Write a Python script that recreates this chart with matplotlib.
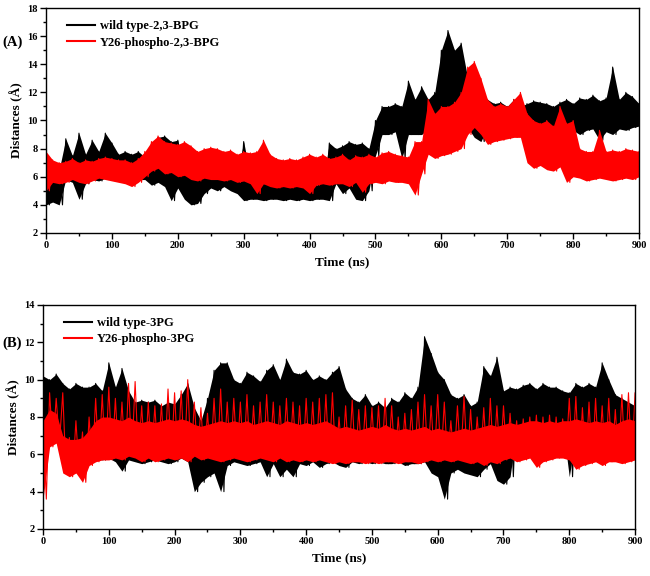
import numpy as np
import matplotlib
matplotlib.use('Agg')
import matplotlib.pyplot as plt
from matplotlib.ticker import MultipleLocator

plt.rcParams['font.family'] = ['Liberation Serif', 'DejaVu Serif']
plt.rcParams['font.weight'] = 'bold'

# envelope values (upper / lower) read every 10 ns, 0..900
a_wt_hi = [5.5, 5.8, 6.5, 8.7, 7.5, 9.1, 7.6, 8.6, 7.8, 9.1, 8.4, 7.6, 7.8, 7.6, 7.8, 7.4, 8.2, 8.8, 8.9, 8.5,
           8.6, 6.5, 6.2, 6.0, 6.3, 6.5, 6.2, 6.2, 6.0, 6.0, 8.5, 6.0, 5.8, 5.5, 5.6, 5.5, 5.4, 5.5, 5.3, 5.4,
           5.5, 5.4, 5.6, 8.4, 8.0, 8.2, 8.5, 8.3, 8.4, 8.0, 10.0, 11.0, 11.0, 11.2, 11.0, 12.8, 11.5, 12.4, 11.5, 12.0,
           15.0, 16.4, 15.0, 15.5, 13.0, 11.0, 10.5, 11.5, 11.2, 11.3, 11.0, 11.5, 11.0, 11.2, 11.4, 11.3, 11.2, 11.0, 11.3, 11.5,
           11.2, 11.6, 11.5, 11.8, 11.4, 11.6, 13.8, 11.5, 12.0, 11.7, 11.2]
a_wt_lo = [4.0, 4.2, 4.0, 5.8, 5.6, 4.4, 5.5, 5.8, 5.7, 5.9, 5.8, 5.7, 5.6, 5.6, 5.8, 5.8, 5.4, 5.6, 5.3, 4.3,
           5.2, 4.4, 4.0, 4.1, 4.8, 5.2, 5.0, 5.3, 5.0, 4.8, 4.3, 4.4, 4.4, 4.3, 4.4, 4.4, 4.3, 4.4, 4.3, 4.4,
           4.3, 4.4, 4.4, 4.3, 5.5, 4.8, 5.2, 4.4, 4.3, 5.0, 7.5, 9.0, 9.0, 9.2, 7.3, 9.0, 9.0, 9.0, 9.4, 8.5,
           10.5, 11.0, 10.8, 10.8, 9.5, 8.8, 8.5, 9.5, 9.6, 9.5, 9.3, 9.4, 9.5, 9.0, 9.2, 9.2, 8.8, 9.0, 9.2, 9.2,
           9.3, 9.0, 9.3, 9.4, 8.6, 9.2, 9.0, 9.4, 9.3, 9.5, 9.6]
a_ph_hi = [7.8, 7.2, 7.0, 7.1, 7.3, 7.0, 7.2, 7.1, 7.3, 7.4, 7.3, 7.2, 7.2, 7.0, 7.3, 7.8, 8.5, 8.9, 8.5, 8.4,
           8.3, 8.5, 8.2, 7.8, 8.0, 8.1, 8.0, 7.8, 7.9, 7.6, 7.8, 7.7, 7.8, 8.6, 7.6, 7.3, 7.2, 7.3, 7.2, 7.4,
           7.6, 7.4, 7.6, 7.3, 7.4, 7.6, 7.2, 7.5, 7.4, 7.6, 7.4, 7.7, 7.8, 7.6, 7.5, 7.4, 8.5, 8.5, 11.5, 10.5,
           11.0, 11.0, 11.3, 12.0, 13.8, 14.2, 13.0, 11.5, 11.0, 11.2, 11.0, 11.5, 12.0, 10.5, 10.0, 9.8, 10.0, 9.6, 11.0, 9.8,
           10.0, 8.0, 7.8, 7.8, 9.3, 7.8, 7.9, 7.8, 8.0, 7.9, 7.8]
a_ph_lo = [5.0, 5.6, 5.5, 5.6, 5.8, 5.6, 5.5, 5.7, 5.9, 5.8, 5.7, 5.6, 5.5, 5.3, 5.6, 6.0, 6.4, 6.6, 6.2, 6.3,
           6.0, 6.1, 5.8, 5.7, 5.9, 5.8, 5.8, 5.7, 5.8, 5.6, 5.7, 5.5, 4.8, 5.5, 5.3, 5.2, 5.3, 5.2, 5.3, 5.2,
           4.8, 5.4, 5.5, 5.4, 5.5, 5.5, 5.3, 5.6, 4.9, 5.5, 5.6, 5.5, 5.7, 5.6, 5.6, 5.5, 4.7, 6.2, 7.6, 7.3,
           7.5, 7.6, 7.8, 8.0, 9.0, 9.5, 9.0, 8.3, 8.5, 8.6, 8.7, 8.8, 8.8, 7.0, 6.6, 6.8, 6.5, 6.4, 6.7, 5.6,
           6.0, 5.9, 5.7, 5.8, 5.9, 5.8, 5.7, 5.8, 5.9, 5.8, 6.0]

b_wt_hi = [10.2, 10.0, 10.3, 9.8, 9.5, 9.8, 9.6, 9.6, 9.8, 9.4, 10.9, 9.6, 10.6, 9.4, 8.8, 8.9, 8.8, 8.9, 8.6, 8.8,
           8.7, 9.2, 9.8, 8.5, 7.8, 9.0, 10.5, 10.9, 10.9, 10.0, 9.8, 10.4, 10.2, 9.9, 10.5, 10.8, 10.0, 11.1, 10.4, 10.3,
           10.5, 10.0, 10.2, 10.0, 10.4, 10.7, 9.5, 9.0, 8.8, 9.2, 8.6, 8.8, 8.5, 9.0, 8.8, 9.3, 9.0, 9.6, 12.3, 11.4,
           10.4, 10.0, 9.2, 9.0, 9.2, 8.6, 8.8, 10.7, 10.2, 11.2, 9.4, 9.6, 9.5, 9.7, 9.8, 9.5, 9.8, 9.6, 9.6, 9.4,
           9.3, 9.8, 9.6, 9.8, 9.6, 10.9, 10.0, 9.2, 9.0, 8.8, 8.6]
b_wt_lo = [7.4, 7.6, 7.5, 6.5, 6.0, 5.0, 5.6, 5.5, 5.8, 5.7, 5.8, 5.6, 5.1, 5.7, 5.6, 5.5, 5.6, 5.7, 5.6, 5.5,
           5.6, 5.8, 5.6, 4.0, 4.5, 4.8, 5.0, 4.0, 5.4, 5.6, 5.5, 5.4, 5.5, 5.6, 4.8, 5.5, 4.8, 5.2, 4.8, 5.5,
           5.4, 5.6, 5.3, 5.5, 5.6, 5.4, 5.3, 5.6, 5.5, 5.6, 5.5, 5.6, 5.5, 5.5, 5.6, 5.4, 5.5, 5.5, 5.6, 5.0,
           4.8, 3.6, 5.0, 5.2, 5.0, 4.9, 4.8, 5.2, 5.5, 4.6, 4.4, 4.8, 7.3, 7.7, 7.6, 7.7, 7.5, 7.6, 7.4, 7.6,
           4.8, 7.0, 6.8, 6.5, 6.8, 6.5, 6.6, 6.2, 6.0, 6.2, 6.3]
b_ph_hi = [8.0, 9.3, 9.0, 9.3, 6.9, 7.8, 7.2, 8.0, 9.0, 9.2, 9.6, 9.0, 8.8, 9.8, 9.9, 8.6, 8.8, 8.6, 8.7, 9.5,
           9.3, 9.4, 10.0, 8.8, 8.5, 8.2, 9.0, 9.5, 8.8, 9.0, 8.8, 9.2, 8.6, 8.8, 9.2, 8.8, 8.6, 9.0, 8.8, 8.6,
           9.0, 8.8, 9.0, 9.2, 9.3, 8.0, 8.6, 8.9, 8.4, 8.6, 8.5, 8.6, 9.0, 8.6, 8.0, 8.2, 8.4, 8.8, 9.2, 8.6,
           9.2, 8.8, 7.8, 8.6, 9.1, 8.4, 8.0, 8.5, 9.0, 8.6, 8.6, 8.2, 7.8, 7.9, 8.0, 8.1, 8.0, 8.1, 8.0, 7.9,
           9.0, 9.1, 8.5, 8.8, 9.0, 8.6, 9.0, 8.4, 9.2, 9.3, 9.3]
# top of the dense part of the red band in (B)
b_ph_core = [7.8, 8.4, 8.2, 7.0, 6.8, 6.8, 6.9, 7.3, 7.8, 8.0, 8.0, 7.9, 7.8, 8.0, 7.8, 7.7, 7.8, 7.7, 7.8, 7.9,
             7.8, 7.9, 7.8, 7.6, 7.5, 7.6, 7.7, 7.8, 7.7, 7.8, 7.7, 7.8, 7.6, 7.7, 7.8, 7.7, 7.6, 7.8, 7.7, 7.6,
             7.7, 7.6, 7.7, 7.8, 7.6, 7.4, 7.5, 7.4, 7.3, 7.4, 7.5, 7.4, 7.6, 7.4, 7.3, 7.4, 7.3, 7.4, 7.5, 7.3,
             7.4, 7.3, 7.2, 7.3, 7.4, 7.3, 7.4, 7.5, 7.6, 7.5, 7.6, 7.7, 7.6, 7.7, 7.8, 7.8, 7.7, 7.8, 7.7, 7.8,
             7.8, 7.9, 7.8, 7.7, 7.8, 7.7, 7.8, 7.6, 7.8, 7.9, 7.8]
b_ph_lo = [3.6, 6.4, 6.6, 5.0, 4.8, 5.0, 4.5, 5.4, 5.6, 5.7, 5.7, 5.8, 5.7, 5.9, 5.8, 5.6, 5.8, 5.6, 5.7, 5.8,
           5.7, 5.8, 5.6, 5.9, 5.7, 5.8, 5.7, 5.6, 5.7, 5.8, 5.7, 5.6, 5.7, 5.8, 5.7, 5.6, 5.8, 5.6, 5.7, 5.6,
           5.7, 5.6, 5.7, 5.6, 5.5, 5.6, 5.5, 5.6, 5.6, 5.5, 5.6, 5.5, 5.6, 5.6, 5.5, 5.6, 5.6, 5.5, 5.6, 5.7,
           5.6, 5.7, 5.6, 5.7, 5.6, 5.5, 5.6, 5.4, 5.6, 5.5, 5.7, 5.8, 5.6, 5.7, 5.8, 5.3, 5.6, 5.7, 5.8, 5.8,
           5.7, 5.2, 5.4, 5.5, 5.6, 5.4, 5.6, 5.6, 5.5, 5.6, 5.7]

times = np.arange(0, 910, 10)


def zigzag(hi, lo):
    tt = np.empty(2 * len(hi))
    yy = np.empty(2 * len(hi))
    tt[0::2] = times
    tt[1::2] = times + 5
    yy[0::2] = hi
    yy[1::2] = lo
    return tt, yy


def draw(ax, hi, lo, color, label, z, core=None):
    top = hi if core is None else core
    ax.fill_between(times, lo, top, color=color, lw=0, zorder=z)
    tt, yy = zigzag(hi, lo)
    ax.plot(tt, yy, color=color, lw=0.8, label=label, zorder=z + 0.1)


def style(ax, ymin, ymax):
    ax.set_xlim(0, 900)
    ax.set_ylim(ymin, ymax)
    ax.xaxis.set_major_locator(MultipleLocator(100))
    ax.xaxis.set_minor_locator(MultipleLocator(50))
    ax.yaxis.set_major_locator(MultipleLocator(2))
    ax.yaxis.set_minor_locator(MultipleLocator(1))
    ax.tick_params(which='both', direction='out', top=False, right=False, labelsize=7.5, pad=2)
    ax.tick_params(which='major', length=4, width=1)
    ax.tick_params(which='minor', length=2.5, width=1)
    for s in ax.spines.values():
        s.set_linewidth(1)
        s.set_zorder(5)
    ax.set_xlabel('Time (ns)', fontsize=9.5, fontweight='bold', labelpad=4)
    ax.set_ylabel('Distances (Å)', fontsize=9.5, fontweight='bold', labelpad=3)
    leg = ax.legend(loc='upper left', bbox_to_anchor=(0.02, 0.985), frameon=False, fontsize=9,
                    handlelength=2.3, handletextpad=0.35, borderaxespad=0.3, labelspacing=0.35)
    leg.set_zorder(6)
    for ln in leg.get_lines():
        ln.set_linewidth(1.5)


fig = plt.figure(figsize=(6.5, 5.76), dpi=100)
axA = fig.add_axes([0.0708, 0.5955, 0.9123, 0.3906])
axB = fig.add_axes([0.0662, 0.0816, 0.9108, 0.3889])

draw(axA, a_wt_hi, a_wt_lo, 'black', 'wild type-2,3-BPG', 1)
draw(axA, a_ph_hi, a_ph_lo, 'red', 'Y26-phospho-2,3-BPG', 2)
style(axA, 2, 18)

draw(axB, b_wt_hi, b_wt_lo, 'black', 'wild type-3PG', 1)
draw(axB, b_ph_hi, b_ph_lo, 'red', 'Y26-phospho-3PG', 2, core=b_ph_core)
style(axB, 2, 14)

fig.text(0.004, 1 - 42 / 576, '(A)', fontsize=10.5, fontweight='bold', va='center')
fig.text(0.004, 1 - 343 / 576, '(B)', fontsize=10.5, fontweight='bold', va='center')

fig.savefig('out.png', dpi=100)
